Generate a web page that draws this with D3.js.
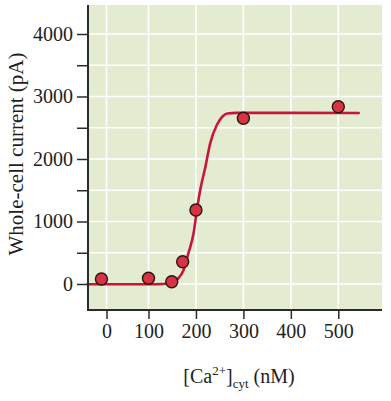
<!DOCTYPE html>
<html>
<head>
<meta charset="utf-8">
<script src="https://cdn.jsdelivr.net/npm/d3@7"></script>
<style>
  html, body { margin: 0; padding: 0; background: #ffffff; }
  svg { display: block; }
  text { font-family: "Liberation Serif", "Times New Roman", serif; fill: #1e1e1e; }
</style>
</head>
<body>
<svg id="chart" width="391" height="401"></svg>
<script>
// ---- data ----
const pointX = [-12, 100, 149, 172, 200, 300, 500];          // [Ca2+]cyt (nM)
const pointY = [80, 91, 37, 357, 1184, 2651, 2837];          // whole-cell current (pA)

const curveX = [-45, 100, 130, 146, 160, 174, 184, 195, 202, 209, 220, 230, 244, 256, 266, 286, 400, 543];
const curveY = [-5, -5, 0, 11, 70, 224, 491, 811, 1184, 1504, 1877, 2251, 2544, 2680, 2728, 2738, 2738, 2736];

const xTickValues = [0, 100, 200, 300, 400, 500];
const xTickLabels = ["0", "100", "200", "300", "400", "500"];
const yMajorTicks = [0, 1000, 2000, 3000, 4000];
const yMajorLabels = ["0", "1000", "2000", "3000", "4000"];
const yMinorTicks = [500, 1500, 2500, 3500];
const yGridValues = [0, 500, 1000, 1500, 2000, 2500, 3000, 3500, 4000];

// ---- layout ----
const plot = { left: 88, right: 382, top: 5, bottom: 310 };
const svg = d3.select("#chart");

// the reference's x axis is not evenly spaced between 0 and 100
const x = d3.scaleLinear().domain([0, 100, 500]).range([106.5, 148.5, 338.3]);
const y = d3.scaleLinear().domain([-416, 4464]).range([plot.bottom, plot.top]);

// background
svg.append("rect")
  .attr("x", plot.left).attr("y", plot.top)
  .attr("width", plot.right - plot.left).attr("height", plot.bottom - plot.top)
  .attr("fill", "#e3ebd1");

// grid
const grid = svg.append("g").attr("stroke", "#ffffff").attr("stroke-width", 1.6);
grid.selectAll("line.v").data(xTickValues).join("line")
  .attr("class", "v")
  .attr("x1", d => x(d)).attr("x2", d => x(d))
  .attr("y1", plot.top).attr("y2", plot.bottom);
grid.selectAll("line.h").data(yGridValues).join("line")
  .attr("class", "h")
  .attr("x1", plot.left).attr("x2", plot.right)
  .attr("y1", d => y(d)).attr("y2", d => y(d));

// fitted curve
const curveData = curveX.map((d, i) => [d, curveY[i]]);
svg.append("path")
  .datum(curveData)
  .attr("fill", "none")
  .attr("stroke", "#c8153a")
  .attr("stroke-width", 2.6)
  .attr("stroke-linecap", "round")
  .attr("d", d3.line().x(d => x(d[0])).y(d => y(d[1])).curve(d3.curveMonotoneX));

// points
const pts = pointX.map((d, i) => [d, pointY[i]]);
svg.append("g").selectAll("circle").data(pts).join("circle")
  .attr("cx", d => x(d[0])).attr("cy", d => y(d[1]))
  .attr("r", 6)
  .attr("fill", "#d93343")
  .attr("stroke", "#2a1414")
  .attr("stroke-width", 1.4);

// axes
const xAxis = d3.axisBottom(x)
  .tickValues(xTickValues)
  .tickFormat((d, i) => xTickLabels[i])
  .tickSize(9).tickSizeOuter(0).tickPadding(5);
const gx = svg.append("g").attr("transform", `translate(0,${plot.bottom})`).call(xAxis);
gx.select(".domain").remove();
gx.append("line").attr("x1", plot.left - 1).attr("x2", plot.right).attr("y1", 0).attr("y2", 0)
  .attr("stroke", "#2b2b2b").attr("stroke-width", 2);
gx.selectAll(".tick line").attr("stroke", "#2b2b2b").attr("stroke-width", 1.5);
gx.selectAll(".tick text").attr("font-size", 20).attr("fill", "#1e1e1e")
  .style("font-family", '"Liberation Serif", serif');

const yAxis = d3.axisLeft(y)
  .tickValues(yMajorTicks)
  .tickFormat((d, i) => yMajorLabels[i])
  .tickSize(11).tickSizeOuter(0).tickPadding(4);
const gy = svg.append("g").attr("transform", `translate(${plot.left},0)`).call(yAxis);
gy.select(".domain").remove();
gy.append("line").attr("x1", 0).attr("x2", 0).attr("y1", plot.top).attr("y2", plot.bottom + 1)
  .attr("stroke", "#2b2b2b").attr("stroke-width", 2);
gy.selectAll(".tick line").attr("stroke", "#2b2b2b").attr("stroke-width", 1.5);
gy.selectAll(".tick text").attr("font-size", 20).attr("fill", "#1e1e1e")
  .style("font-family", '"Liberation Serif", serif');
const yMinor = d3.axisLeft(y).tickValues(yMinorTicks).tickFormat("").tickSize(11).tickSizeOuter(0);
const gym = svg.append("g").attr("transform", `translate(${plot.left},0)`).call(yMinor);
gym.select(".domain").remove();
gym.selectAll(".tick line").attr("stroke", "#2b2b2b").attr("stroke-width", 1.5);

// axis titles
const yTitle = svg.append("text")
  .attr("transform", "translate(23,154) rotate(-90)")
  .attr("text-anchor", "middle")
  .attr("font-size", 21)
  .text("Whole-cell current (pA)");

const xTitle = svg.append("text")
  .attr("x", 239).attr("y", 383)
  .attr("text-anchor", "middle")
  .attr("font-size", 20);
xTitle.append("tspan").text("[Ca");
xTitle.append("tspan").attr("font-size", 13).attr("dy", -8).text("2+");
xTitle.append("tspan").attr("dy", 8).text("]");
xTitle.append("tspan").attr("font-size", 13).attr("dy", 5).text("cyt");
xTitle.append("tspan").attr("dy", -5).text(" (nM)");
</script>
</body>
</html>
